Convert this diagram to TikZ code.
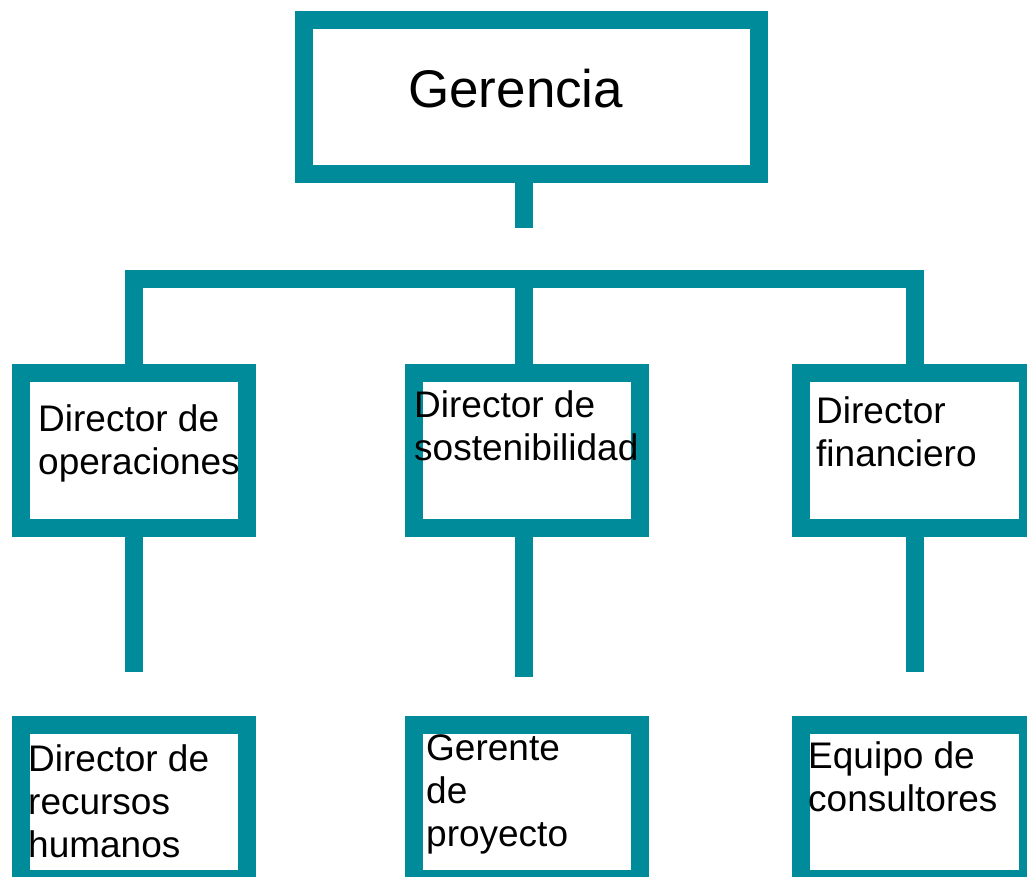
\documentclass[tikz,border=0pt]{standalone}
\usepackage{fontspec}
\setmainfont{Liberation Sans}
\definecolor{azulorg}{RGB}{0,139,155}
\begin{document}
\begin{tikzpicture}[x=1pt, y=1pt,
    caja/.style={draw=azulorg, line width=18pt, rectangle, inner sep=0pt},
    linea/.style={draw=azulorg, line width=18pt},
    texto/.style={anchor=base west, align=left, inner sep=0pt, font=\fontsize{37}{43}\selectfont}]
    \clip (0, 0) rectangle (1027, -876);

    % Gerencia
    \node[caja, minimum width=455pt, minimum height=154pt] (ger) at (531.5, -97) {};
    \node[anchor=base west, inner sep=0pt, font=\fontsize{53}{60}\selectfont] (tger) at (408, -107) {Gerencia};

    % directores (base = ultima linea)
    \node[caja, minimum width=226pt, minimum height=155pt] (ope) at (134, -450.5) {};
    \node[caja, minimum width=226pt, minimum height=155pt] (sos) at (527, -450.5) {};
    \node[caja, minimum width=227pt, minimum height=155pt] (fin) at (914.5, -450.5) {};
    \node[texto] (tope) at (38, -474) {Director de\\operaciones};
    \node[texto] (tsos) at (414, -460) {Director de\\sostenibilidad};
    \node[texto] (tfin) at (816, -466) {Director\\financiero};

    % segundo nivel
    \node[caja, minimum width=226pt, minimum height=154pt] (rrhh) at (134, -802) {};
    \node[caja, minimum width=226pt, minimum height=154pt] (proy) at (527, -802) {};
    \node[caja, minimum width=227pt, minimum height=154pt] (cons) at (914.5, -802) {};
    \node[texto] (trrhh) at (28, -857) {Director de\\recursos\\humanos};
    \node[texto] (tproy) at (426, -846) {Gerente\\de\\proyecto};
    \node[texto] (tcons) at (808, -811) {Equipo de\\consultores};

    % conectores
    \coordinate (gstub) at (524, -228);
    \coordinate (bus) at (524, -279);
    \coordinate (ostub) at (134, -672);
    \coordinate (pstub) at (524, -677);
    \coordinate (fstub) at (914.5, -672);
    \draw[linea] (gstub |- ger.south) -- (gstub);
    \draw[linea] (ope.north) |- (bus) -| (fin.north);
    \draw[linea] (bus) -- (bus |- sos.north);
    \draw[linea] (ope.south) -- (ostub);
    \draw[linea] (pstub |- sos.south) -- (pstub);
    \draw[linea] (fin.south) -- (fstub);
\end{tikzpicture}
\end{document}
